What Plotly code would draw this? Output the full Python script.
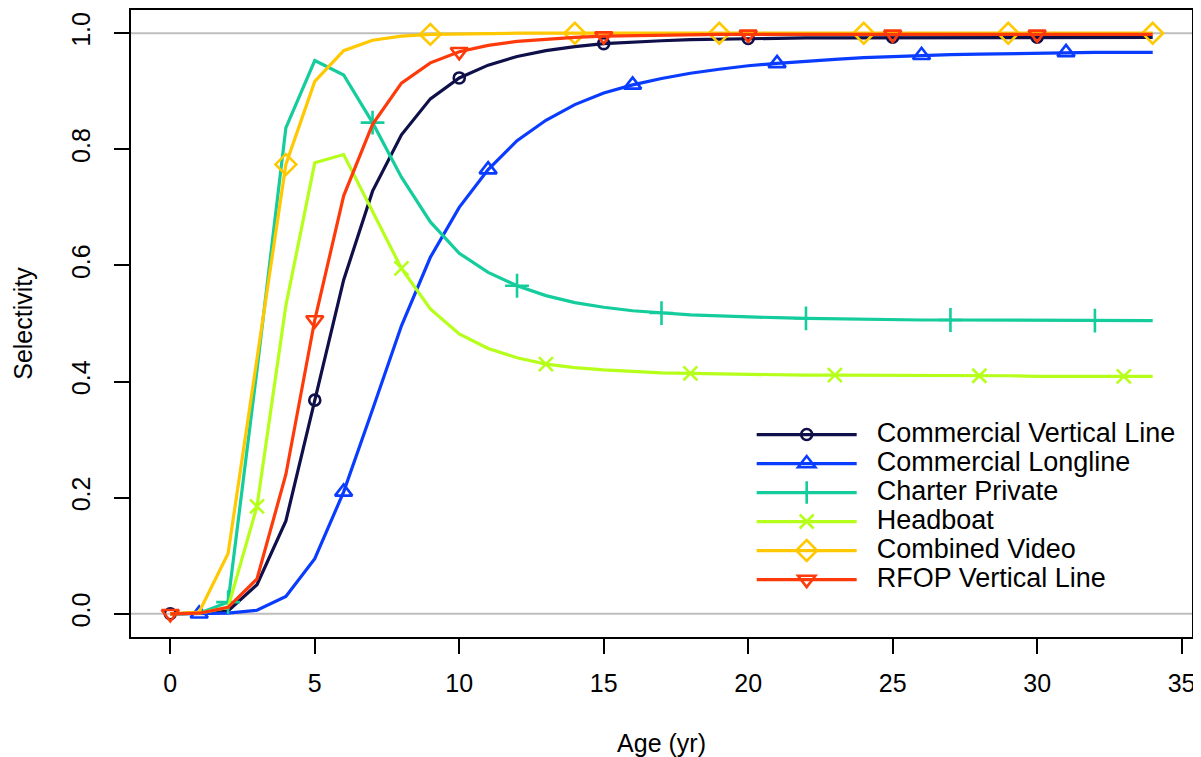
import plotly.graph_objects as go

ages = list(range(0, 35))

commercial_vertical_line = [0.000, 0.001, 0.005, 0.050, 0.160, 0.368, 0.575, 0.728, 0.825, 0.887,
                            0.923, 0.945, 0.960, 0.970, 0.977, 0.982, 0.985, 0.987, 0.989, 0.990,
                            0.991, 0.991, 0.992, 0.992, 0.992, 0.993, 0.993, 0.993, 0.993, 0.993,
                            0.993, 0.993, 0.993, 0.993, 0.993]
commercial_longline = [0.000, 0.000, 0.001, 0.006, 0.030, 0.095, 0.210, 0.352, 0.496, 0.614,
                       0.700, 0.765, 0.815, 0.850, 0.877, 0.897, 0.911, 0.922, 0.931, 0.938,
                       0.944, 0.948, 0.952, 0.955, 0.958, 0.960, 0.962, 0.963, 0.964, 0.965,
                       0.966, 0.967, 0.967, 0.967, 0.967]
charter_private = [0.000, 0.001, 0.020, 0.420, 0.837, 0.953, 0.928, 0.846, 0.752, 0.675,
                   0.621, 0.588, 0.565, 0.548, 0.536, 0.528, 0.522, 0.518, 0.515, 0.513,
                   0.511, 0.510, 0.509, 0.508, 0.507, 0.507, 0.506, 0.506, 0.506, 0.505,
                   0.505, 0.505, 0.505, 0.505, 0.505]
headboat = [0.000, 0.001, 0.011, 0.185, 0.531, 0.777, 0.791, 0.693, 0.595, 0.525,
            0.482, 0.457, 0.441, 0.430, 0.424, 0.420, 0.417, 0.415, 0.414, 0.413,
            0.412, 0.412, 0.411, 0.411, 0.411, 0.410, 0.410, 0.410, 0.410, 0.410,
            0.409, 0.409, 0.409, 0.409, 0.409]
combined_video = [0.000, 0.003, 0.104, 0.440, 0.774, 0.917, 0.970, 0.988, 0.995, 0.998,
                  0.999, 0.999, 1.000, 1.000, 1.000, 1.000, 1.000, 1.000, 1.000, 1.000,
                  1.000, 1.000, 1.000, 1.000, 1.000, 1.000, 1.000, 1.000, 1.000, 1.000,
                  1.000, 1.000, 1.000, 1.000, 1.000]
rfop_vertical_line = [0.000, 0.001, 0.011, 0.060, 0.240, 0.506, 0.720, 0.843, 0.914, 0.949,
                      0.968, 0.979, 0.986, 0.990, 0.993, 0.995, 0.996, 0.997, 0.997, 0.998,
                      0.998, 0.998, 0.998, 0.998, 0.998, 0.998, 0.998, 0.998, 0.998, 0.998,
                      0.998, 0.998, 0.998, 0.998, 0.998]

series_names = ["Commercial Vertical Line", "Commercial Longline", "Charter Private",
                "Headboat", "Combined Video", "RFOP Vertical Line"]
series_values = [commercial_vertical_line, commercial_longline, charter_private,
                 headboat, combined_video, rfop_vertical_line]
x_tick_values = [0, 5, 10, 15, 20, 25, 30, 35]
y_tick_values = [0.0, 0.2, 0.4, 0.6, 0.8, 1.0]
y_tick_labels = ["0.0", "0.2", "0.4", "0.6", "0.8", "1.0"]
reference_lines = [0.0, 1.0]

colors = ["#0f0f4a", "#0a3cff", "#14cc9c", "#b5ff1a", "#ffc800", "#ff3a0a"]
symbols = ["circle-open", "triangle-up-open", "cross-thin-open", "x-thin-open",
           "diamond-open", "triangle-down-open"]
marker_sizes = [11, 15, 17, 14, 16, 15]
marker_offsets = [0, 1, 2, 3, 4, 0]

fig = go.Figure()

for yv in reference_lines:
    fig.add_hline(y=yv, line=dict(color="#bebebe", width=2), layer="below")

for name, vals, col, sym, ms, off in zip(series_names, series_values, colors, symbols,
                                          marker_sizes, marker_offsets):
    fig.add_trace(go.Scatter(x=ages, y=vals, mode="lines", line=dict(color=col, width=3.2),
                             showlegend=False, hoverinfo="skip"))
    fig.add_trace(go.Scatter(x=ages[off::5], y=vals[off::5], mode="markers",
                             marker=dict(symbol=sym, size=ms, color=col,
                                         line=dict(color=col, width=2.6)),
                             showlegend=False))
    fig.add_trace(go.Scatter(x=[None], y=[None], mode="lines+markers",
                             name='<span style="font-size:27px">\u00a0\u00a0' + name + '</span>',
                             line=dict(color=col, width=3.2),
                             marker=dict(symbol=sym, size=ms, color=col,
                                         line=dict(color=col, width=2.6))))

font_family = "Liberation Sans, Arial, sans-serif"

# page body has an 8px margin; the figure is sized to fit inside the 1201x757 window
fig.update_layout(
    width=1193, height=749,
    margin=dict(l=123, r=9, t=2, b=120, autoexpand=False),
    paper_bgcolor="white", plot_bgcolor="white",
    font=dict(family=font_family, color="black", size=25),
    legend=dict(x=0.585, y=0.354, xanchor="left", yanchor="top",
                font=dict(size=20, family=font_family),
                itemwidth=100, tracegroupgap=0, bgcolor="rgba(0,0,0,0)"),
    xaxis=dict(range=[-1.36, 35.36], tickmode="array", tickvals=x_tick_values,
               ticks="outside", ticklen=15, tickwidth=1.5, tickcolor="black",
               showline=True, linecolor="black", linewidth=2, mirror=True,
               showgrid=False, zeroline=False, ticklabelstandoff=8, automargin=False,
               tickfont=dict(size=25),
               title=dict(text="Age (yr)", font=dict(size=25), standoff=38)),
    yaxis=dict(range=[-0.04, 1.04], tickmode="array", tickvals=y_tick_values,
               ticktext=y_tick_labels, tickangle=-90,
               ticks="outside", ticklen=15, tickwidth=1.5, tickcolor="black",
               showline=True, linecolor="black", linewidth=2, mirror=True,
               showgrid=False, zeroline=False, ticklabelstandoff=14, automargin=False,
               tickfont=dict(size=25),
               title=dict(text="Selectivity", font=dict(size=25), standoff=27)),
)

fig.write_html("out.html")
